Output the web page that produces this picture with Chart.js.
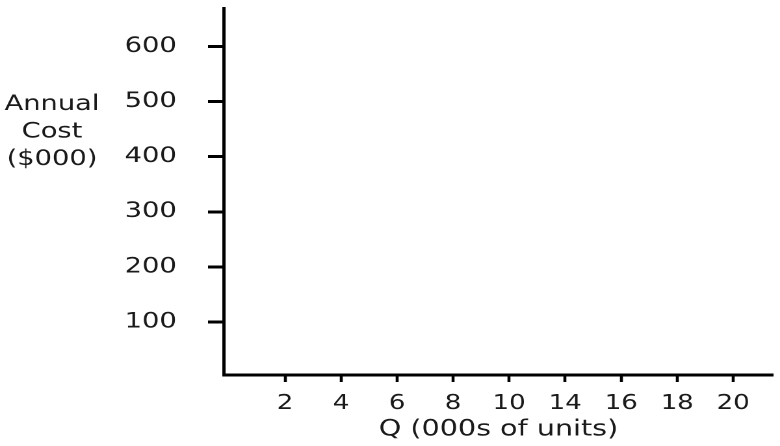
<!DOCTYPE html>
<html>
<head>
<meta charset="utf-8">
<title>Annual Cost</title>
<script src="https://cdn.jsdelivr.net/npm/chart.js@4.4.1/dist/chart.umd.min.js"></script>
<style>
  html, body { margin: 0; padding: 0; background: #fff; overflow: hidden; }
  /* the original lettering is wide, so the chart is drawn narrow and stretched */
  #wrap { width: 600px; height: 446px; transform: scale(1.3, 1); transform-origin: 0 0; }
</style>
</head>
<body>
<div id="wrap"><canvas id="myChart" width="600" height="446"></canvas></div>
<script>
'use strict';

// tick labels along Q (the picture skips 12)
var qLabels = ['2', '4', '6', '8', '10', '14', '16', '18', '20'];
var qSlots = [1, 2, 3, 4, 5, 6, 7, 8, 9];
var costTicks = [100, 200, 300, 400, 500, 600];
var costValues = []; // the axes are empty in the picture
var yTitle = ['Annual', 'Cost', '($000)'];
var xTitle = 'Q (000s of units)';

var FONT = '"DejaVu Sans"';
var INK = '#1a1a1a';

(function () {
  var ctx = document.getElementById('myChart');

  // horizontal y title, lined up with the 500 and 400 ticks
  var sideTitle = {
    id: 'sideTitle',
    afterDraw: function (chart) {
      var c = chart.ctx;
      var y = chart.scales.y;
      c.save();
      c.font = '21px ' + FONT;
      c.fillStyle = INK;
      c.textAlign = 'center';
      c.textBaseline = 'alphabetic';
      c.fillText(yTitle[0], 40, y.getPixelForValue(500) + 8.5);
      c.fillText(yTitle[1], 40, y.getPixelForValue(450) + 8.5);
      c.fillText(yTitle[2], 40, y.getPixelForValue(400) + 8.5);
      c.restore();
    }
  };

  new Chart(ctx, {
    type: 'line',
    data: { datasets: [{ data: costValues, borderColor: '#000', pointRadius: 0 }] },
    plugins: [sideTitle],
    options: {
      responsive: false,
      animation: false,
      devicePixelRatio: 2,
      layout: { padding: { top: 8, right: 5.4, left: 0, bottom: 0 } },
      plugins: { legend: { display: false }, tooltip: { enabled: false } },
      scales: {
        x: {
          type: 'linear',
          min: -0.09,
          max: 9.71,
          afterBuildTicks: function (s) {
            s.ticks = qSlots.map(function (v) { return { value: v }; });
          },
          afterFit: function (s) {
            s.height = 71;
            s.paddingLeft = 0;
            s.paddingRight = 0;
          },
          grid: { drawOnChartArea: false, drawTicks: true, tickLength: 7, tickWidth: 2.3, tickColor: '#000' },
          border: { display: true, color: '#000', width: 3 },
          ticks: {
            autoSkip: false,
            maxRotation: 0,
            padding: 10,
            color: INK,
            font: { family: FONT, size: 20 },
            callback: function (v, i) { return qLabels[i]; }
          },
          title: {
            display: true,
            text: xTitle,
            color: INK,
            font: { family: FONT, size: 22 },
            padding: { top: 0, bottom: 3 }
          }
        },
        y: {
          min: 3.6,
          max: 670,
          afterBuildTicks: function (s) {
            s.ticks = costTicks.map(function (v) { return { value: v }; });
          },
          afterFit: function (s) {
            s.width = 172.3;
            s.paddingTop = 0;
            s.paddingBottom = 0;
          },
          grid: { drawOnChartArea: false, drawTicks: true, tickLength: 12.3, tickWidth: 3, tickColor: '#000' },
          border: { display: true, color: '#000', width: 2.5 },
          ticks: {
            padding: 24,
            color: INK,
            font: { family: FONT, size: 21 }
          }
        }
      }
    }
  });
})();
</script>
</body>
</html>
